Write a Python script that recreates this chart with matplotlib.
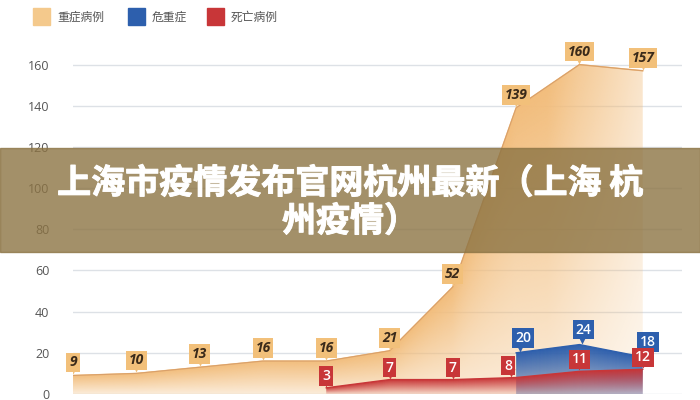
import numpy as np
import matplotlib
matplotlib.use('Agg')
import matplotlib.pyplot as plt
import matplotlib.transforms as mtransforms
import matplotlib.patheffects as pe
from matplotlib.patches import Rectangle

plt.rcParams['font.family'] = ['Noto Sans CJK SC', 'DejaVu Sans']

################## data #################
x_idx = list(range(10))
severe = [9, 10, 13, 16, 16, 21, 52, 139, 160, 157]       # 重症病例
critical_idx = [7, 8, 9]
critical = [20, 24, 18]                                    # 危重症
death_idx = [4, 5, 6, 7, 8, 9]
death = [3, 7, 7, 8, 11, 12]                               # 死亡病例
yticks = [0, 20, 40, 60, 80, 100, 120, 140, 160]
legend_names = ['重症病例', '危重症', '死亡病例']
title_lines = ['上海市疫情发布官网杭州最新（上海 杭', '州疫情）']

c_blue = '#2d5fad'
c_red = '#c83638'

fig = plt.figure(figsize=(7, 4), dpi=100)
ax = fig.add_axes([73/700, 6/400, (682-73)/700, 350/400])
ax.set_xlim(0, 9.62)
ax.set_ylim(0, 170)


def grad_area(xs, ys, color, lo=0.25, fade_right=False, z=1):
    xs = np.asarray(xs, float)
    ys = np.asarray(ys, float)
    poly = ax.fill_between(xs, 0, ys, color='none', lw=0, zorder=z)
    gx = np.linspace(xs[0], xs[-1], 300)
    gy = np.linspace(0, ys.max(), 300)
    X, Y = np.meshgrid(gx, gy)
    top = np.interp(X, xs, ys)
    a = lo + (1 - lo) * np.clip(Y / top, 0, 1)
    if fade_right:
        a = a * (1 - 0.6 * np.clip((X - 7.5) / 1.5, 0, 1))
    rgba = np.zeros(X.shape + (4,))
    rgba[..., :3] = matplotlib.colors.to_rgb(color)
    rgba[..., 3] = a
    im = ax.imshow(rgba, extent=(xs[0], xs[-1], 0, ys.max()), origin='lower',
                   aspect='auto', zorder=z, interpolation='bilinear')
    im.set_clip_path(poly.get_paths()[0], transform=ax.transData)
    ax.plot(xs, ys, color=color, lw=1, zorder=z + 0.1)


grad_area(x_idx, severe, '#f2bd7c', lo=0.3, fade_right=True, z=1)
ax.plot(x_idx, severe, color='#d9a06a', lw=0.8, zorder=1.2)
grad_area(critical_idx, critical, c_blue, lo=0.35, z=2)
grad_area(death_idx, death, c_red, lo=0.1, z=3)

ax.set_xlim(0, 9.62)
ax.set_ylim(0, 170)

# grid & ticks
for yv in yticks:
    ax.axhline(yv, color='#dde1e6', lw=1, zorder=0)
ax.set_yticks(yticks)
ax.set_yticklabels([str(v) for v in yticks], fontsize=9, color='#555555',
                   family=['Open Sans', 'DejaVu Sans'])
ax.tick_params(axis='y', length=0, pad=17)
ax.set_xticks([])
for s in ax.spines.values():
    s.set_visible(False)


def tag(xs, ys, fc, tc, style='normal', weight='bold', dxs=None, dy=13):
    if dxs is None:
        dxs = [0] * len(xs)
    for xv, yv, dx in zip(xs, ys, dxs):
        tr = mtransforms.offset_copy(ax.transData, fig=fig, x=dx * 0.6, y=5, units='dots')
        ax.plot(xv, yv, marker='v', ms=6, color=fc, mec='none', transform=tr, zorder=5)
        ax.annotate(str(yv), (xv, yv), xytext=(dx, dy), textcoords='offset pixels',
                    ha='center', va='center', fontsize=10, color=tc, fontstyle=style,
                    fontweight=weight, family=['Open Sans', 'DejaVu Sans'], zorder=6,
                    bbox=dict(boxstyle='square,pad=0.2', fc=fc, ec='none'))


tag(x_idx, severe, '#f2c07a', '#3a2a1a', style='italic', dy=13)
tag(critical_idx, critical, c_blue, 'white', weight='semibold', dxs=[7, 4, 5], dy=15)
tag(death_idx, death, c_red, 'white', weight='semibold', dxs=[0, 0, 0, -8, 0, 0], dy=12)

# legend
leg_x = [33, 128, 207]
for xl, name, col in zip(leg_x, legend_names, ['#f4c98c', c_blue, c_red]):
    fig.patches.append(Rectangle((xl/700, 1 - 25/400), 17/700, 17/400,
                                 transform=fig.transFigure, color=col))
    fig.text((xl + 24)/700, 1 - 17/400, name, ha='left', va='center',
             fontsize=8.5, color='#555555')

# banner
fig.patches.append(Rectangle((0, 148/400), 1, 104/400, transform=fig.transFigure,
                             color='#8c7444', alpha=0.8, zorder=10))
for line, yl in zip(title_lines, [183, 221]):
    fig.text(0.5, 1 - yl/400, line, ha='center', va='center', fontsize=24.5,
             fontweight='bold', color='white', zorder=11,
             path_effects=[pe.withStroke(linewidth=0.7, foreground='white')])

fig.savefig('out.png', dpi=100)
